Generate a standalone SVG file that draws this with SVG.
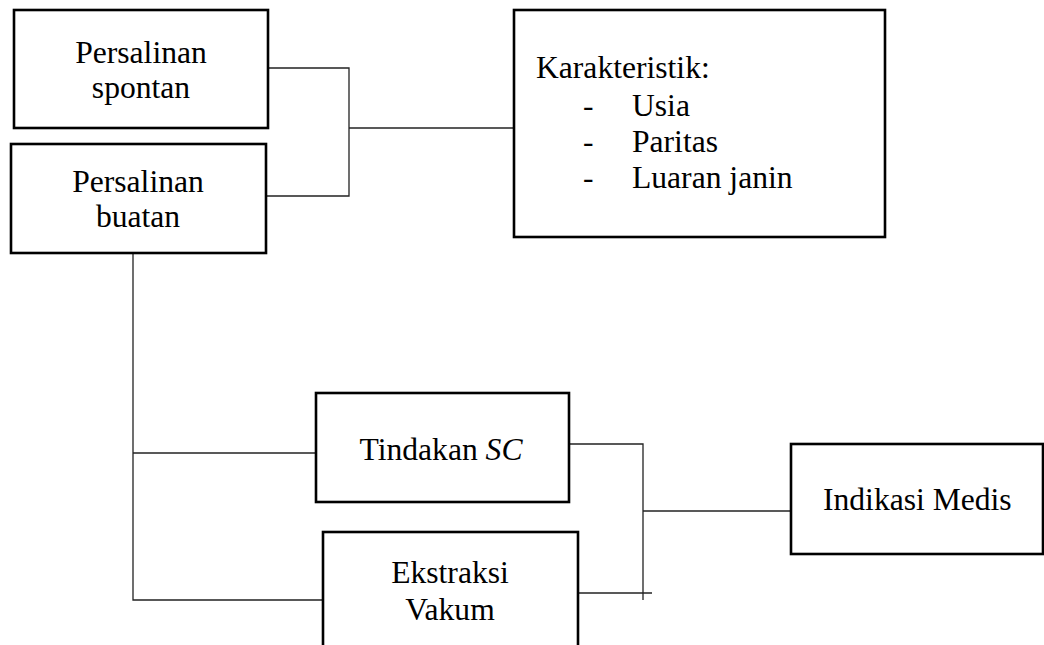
<svg xmlns="http://www.w3.org/2000/svg" width="1044" height="645" viewBox="0 0 1044 645">
<style>
.box{fill:#fff;stroke:#000;stroke-width:2.6}
.t{font-family:"Liberation Serif","Times New Roman",serif;font-size:31.6px;fill:#000}
.c{text-anchor:middle}
.ln{stroke:#222;stroke-width:1.3;fill:none}
</style>
<rect width="1044" height="645" fill="#fff"/>
<g id="connectors">
<polyline class="ln" points="268,68 349,68 349,196 267,196"/>
<line class="ln" x1="349" y1="128" x2="514" y2="128"/>
<polyline class="ln" points="133,253 133,600 323,600"/>
<line class="ln" x1="133" y1="453" x2="316" y2="453"/>
<polyline class="ln" points="569,444 643,444 643,600"/>
<line class="ln" x1="643" y1="511" x2="791" y2="511"/>
<line class="ln" x1="578" y1="593" x2="652" y2="593"/>
</g>
<g id="spontan">
<rect class="box" x="14" y="10" width="254" height="118"/>
<text class="t c" x="141" y="63">Persalinan</text>
<text class="t c" x="141" y="98">spontan</text>
</g>
<g id="buatan">
<rect class="box" x="11" y="144" width="255" height="109"/>
<text class="t c" x="138" y="192">Persalinan</text>
<text class="t c" x="138" y="227">buatan</text>
</g>
<g id="karakteristik">
<rect class="box" x="514" y="10" width="371" height="227"/>
<text class="t" x="536" y="78">Karakteristik:</text>
<text class="t" x="583" y="116">-</text>
<text class="t" x="632" y="116">Usia</text>
<text class="t" x="583" y="152">-</text>
<text class="t" x="632" y="152">Paritas</text>
<text class="t" x="583" y="188">-</text>
<text class="t" x="632" y="188">Luaran janin</text>
</g>
<g id="sc">
<rect class="box" x="316" y="393" width="253" height="109"/>
<text class="t c" x="441" y="460">Tindakan <tspan font-style="italic">SC</tspan></text>
</g>
<g id="vakum">
<rect class="box" x="323" y="532" width="255" height="120"/>
<text class="t c" x="450" y="583">Ekstraksi</text>
<text class="t c" x="450" y="620">Vakum</text>
</g>
<g id="indikasi">
<rect class="box" x="791" y="444" width="252" height="110"/>
<text class="t" x="823" y="510">Indikasi Medis</text>
</g>
</svg>
